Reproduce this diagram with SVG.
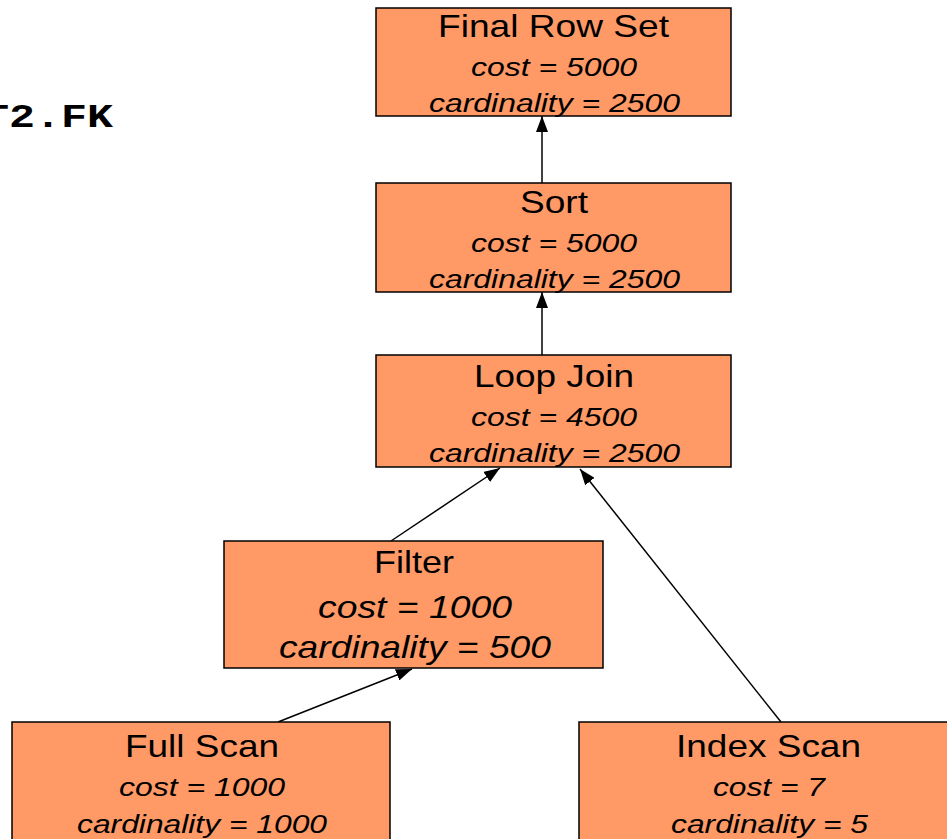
<svg xmlns="http://www.w3.org/2000/svg" width="947" height="839" viewBox="0 0 947 839">
  <style>
    .box { fill: #FF9966; stroke: #000; stroke-width: 1.5; }
    .title { font-family: "Liberation Sans", Arial, sans-serif; font-size: 32px; fill: #000; text-anchor: middle; }
    .stat { font-family: "Liberation Sans", Arial, sans-serif; font-size: 26px; font-style: italic; fill: #000; text-anchor: middle; }
    .stat-lg { font-size: 32px; }
    .edge { stroke: #000; stroke-width: 1.5; fill: none; marker-end: url(#arrow); }
    .code { font-family: "Liberation Mono", "Courier New", monospace; font-size: 34px; font-weight: bold; fill: #000; }
  </style>
  <defs>
    <marker id="arrow" viewBox="0 0 16 12" refX="16" refY="6" markerWidth="16" markerHeight="12" markerUnits="userSpaceOnUse" orient="auto">
      <path d="M0,0 L16,6 L0,12 Z" fill="#000"/>
    </marker>
  </defs>
  <rect width="947" height="839" fill="#fff"/>

  <!-- tail of the query text -->
  <text class="code" x="-17" y="127" textLength="130" lengthAdjust="spacingAndGlyphs">T2.FK</text>

  <!-- connectors: child to parent -->
  <g id="connectors">
    <line class="edge" x1="542" y1="183" x2="542" y2="116"/>
    <line class="edge" x1="542" y1="355" x2="542" y2="292"/>
    <line class="edge" x1="391" y1="541" x2="500" y2="468"/>
    <line class="edge" x1="781" y1="722" x2="580" y2="469"/>
    <line class="edge" x1="278" y1="722" x2="412" y2="669"/>
  </g>

  <g id="final-row-set">
    <rect class="box" x="376" y="8" width="355" height="108"/>
    <text class="title" x="553.5" y="37" textLength="231" lengthAdjust="spacingAndGlyphs">Final Row Set</text>
    <text class="stat" x="554" y="76" textLength="166" lengthAdjust="spacingAndGlyphs">cost = 5000</text>
    <text class="stat" x="554.5" y="112" textLength="251" lengthAdjust="spacingAndGlyphs">cardinality = 2500</text>
  </g>

  <g id="sort">
    <rect class="box" x="376" y="183" width="355" height="109"/>
    <text class="title" x="554" y="213" textLength="68" lengthAdjust="spacingAndGlyphs">Sort</text>
    <text class="stat" x="554" y="252" textLength="166" lengthAdjust="spacingAndGlyphs">cost = 5000</text>
    <text class="stat" x="554.5" y="288" textLength="251" lengthAdjust="spacingAndGlyphs">cardinality = 2500</text>
  </g>

  <g id="loop-join">
    <rect class="box" x="376" y="355" width="355" height="112"/>
    <text class="title" x="554" y="387" textLength="160" lengthAdjust="spacingAndGlyphs">Loop Join</text>
    <text class="stat" x="554" y="426" textLength="166" lengthAdjust="spacingAndGlyphs">cost = 4500</text>
    <text class="stat" x="554.5" y="462" textLength="251" lengthAdjust="spacingAndGlyphs">cardinality = 2500</text>
  </g>

  <g id="filter">
    <rect class="box" x="224" y="541" width="379" height="127"/>
    <text class="title" x="414" y="573" textLength="80" lengthAdjust="spacingAndGlyphs">Filter</text>
    <text class="stat stat-lg" x="415" y="618" textLength="194" lengthAdjust="spacingAndGlyphs">cost = 1000</text>
    <text class="stat stat-lg" x="415" y="658" textLength="272" lengthAdjust="spacingAndGlyphs">cardinality = 500</text>
  </g>

  <g id="full-scan">
    <rect class="box" x="12" y="722" width="378" height="140"/>
    <text class="title" x="202" y="757" textLength="154" lengthAdjust="spacingAndGlyphs">Full Scan</text>
    <text class="stat" x="202" y="796" textLength="166" lengthAdjust="spacingAndGlyphs">cost = 1000</text>
    <text class="stat" x="202" y="833" textLength="250" lengthAdjust="spacingAndGlyphs">cardinality = 1000</text>
  </g>

  <g id="index-scan">
    <rect class="box" x="579" y="722" width="380" height="140"/>
    <text class="title" x="768.5" y="757" textLength="185" lengthAdjust="spacingAndGlyphs">Index Scan</text>
    <text class="stat" x="769" y="796" textLength="112" lengthAdjust="spacingAndGlyphs">cost = 7</text>
    <text class="stat" x="769.5" y="833" textLength="197" lengthAdjust="spacingAndGlyphs">cardinality = 5</text>
  </g>
</svg>
